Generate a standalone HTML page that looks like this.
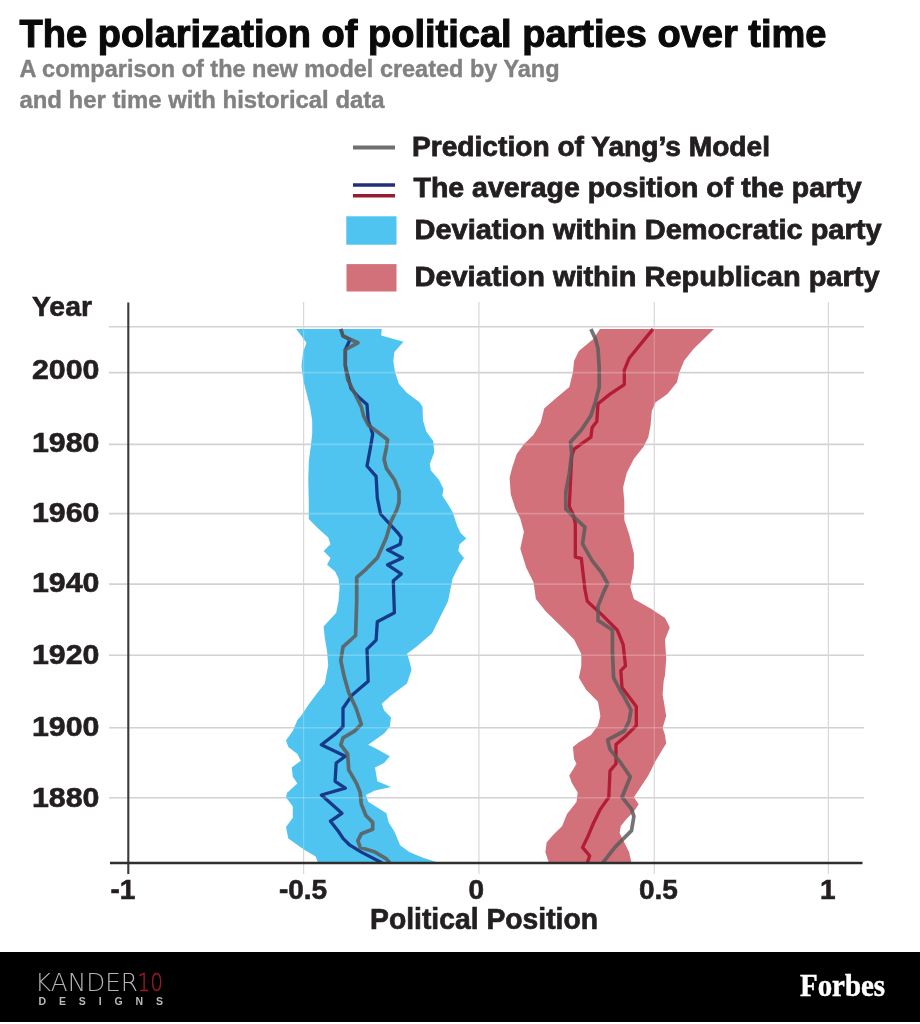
<!DOCTYPE html>
<html><head><meta charset="utf-8"><title>The polarization of political parties over time</title>
<style>html,body{margin:0;padding:0;background:#fff;}body{width:920px;height:1024px;overflow:hidden;}svg{display:block;filter:blur(0.35px);}</style>
</head><body>
<svg width="920" height="1024" viewBox="0 0 920 1024">
<rect width="920" height="1024" fill="#fff"/>
<line x1="109" y1="326.7" x2="864" y2="326.7" stroke="#d2d2d2" stroke-width="1.6"/><line x1="109" y1="372.6" x2="864" y2="372.6" stroke="#d2d2d2" stroke-width="1.6"/><line x1="109" y1="444.4" x2="864" y2="444.4" stroke="#d2d2d2" stroke-width="1.6"/><line x1="109" y1="513.6" x2="864" y2="513.6" stroke="#d2d2d2" stroke-width="1.6"/><line x1="109" y1="584.1" x2="864" y2="584.1" stroke="#d2d2d2" stroke-width="1.6"/><line x1="109" y1="655.2" x2="864" y2="655.2" stroke="#d2d2d2" stroke-width="1.6"/><line x1="109" y1="727.8" x2="864" y2="727.8" stroke="#d2d2d2" stroke-width="1.6"/><line x1="109" y1="797.8" x2="864" y2="797.8" stroke="#d2d2d2" stroke-width="1.6"/><line x1="303.6" y1="302" x2="303.6" y2="874" stroke="#d8d8d8" stroke-width="1.2"/><line x1="478.9" y1="302" x2="478.9" y2="874" stroke="#d8d8d8" stroke-width="1.2"/><line x1="654.3" y1="302" x2="654.3" y2="874" stroke="#d8d8d8" stroke-width="1.2"/><line x1="828.4" y1="302" x2="828.4" y2="874" stroke="#d8d8d8" stroke-width="1.2"/>

<polygon points="296.2,329.1 306.5,342.8 303.1,352.0 301.5,365.7 303.1,379.3 306.5,393.0 310.0,406.7 312.2,420.4 312.2,434.1 310.6,447.8 308.8,461.5 308.3,479.8 308.8,502.6 308.8,519.1 317.9,528.3 328.2,537.4 330.5,544.2 323.6,551.1 330.5,557.9 327.1,564.8 335.1,571.6 338.5,578.5 339.6,587.6 338.5,601.3 336.2,612.7 323.6,626.4 324.8,637.8 327.1,651.5 328.2,665.2 324.8,683.5 318.0,692.0 309.0,704.0 301.0,716.0 297.4,720.0 292.8,731.1 286.0,740.2 288.3,747.1 297.4,753.9 300.8,760.8 291.7,767.6 292.8,776.7 297.4,783.6 287.1,792.7 286.0,797.3 292.8,806.4 292.8,817.8 286.0,827.0 288.3,838.4 304.2,849.8 315.7,856.6 317.9,862.8 438.9,862.8 422.9,857.8 409.2,852.1 400.1,845.2 394.4,831.5 388.7,822.4 386.4,813.3 368.2,801.8 365.9,795.0 375.0,790.4 391.0,787.0 377.3,781.3 375.0,767.6 384.1,763.0 389.8,756.2 377.3,749.3 368.2,744.8 384.1,733.4 389.8,726.5 391.0,717.4 384.1,710.5 381.8,703.7 391.0,695.5 407.0,683.5 411.5,669.8 409.2,660.6 407.0,653.8 416.1,647.0 432.1,633.3 438.9,619.6 448.0,601.3 452.6,578.5 459.5,564.8 464.0,557.9 458.3,551.1 459.5,544.2 466.3,538.5 460.6,533.0 457.2,526.0 452.6,512.0 446.9,502.6 442.3,495.8 443.5,488.9 438.9,479.8 430.9,470.6 429.8,463.8 434.3,452.4 433.2,441.0 426.4,431.8 423.0,420.4 422.5,406.7 419.5,402.2 407.0,393.0 399.0,383.9 395.1,372.5 393.3,361.1 394.4,352.0 403.5,341.7 381.2,335.5 381.8,329.1" fill="#50c4f0"/>
<polygon points="600.0,329.1 593.3,339.1 578.9,351.1 574.1,360.7 572.9,372.6 569.3,387.0 555.0,398.9 544.2,408.5 540.7,422.8 533.5,434.8 523.9,444.3 516.7,453.9 512.0,468.3 509.6,477.8 510.8,494.6 515.5,508.9 520.3,518.5 523.9,532.0 520.3,548.7 526.3,567.8 533.5,582.2 535.9,598.9 545.4,610.9 562.2,627.6 574.1,639.6 581.3,653.9 581.3,665.9 578.9,677.8 586.1,689.8 598.0,701.7 600.4,716.1 598.0,725.4 590.9,735.0 578.9,742.2 572.9,747.0 574.1,758.9 576.5,763.7 569.3,775.6 571.7,782.8 577.7,792.4 576.5,802.0 567.0,813.9 562.2,825.9 552.6,835.4 546.6,842.6 545.4,852.2 549.0,862.9 631.5,862.9 629.1,852.2 624.3,842.6 619.6,833.0 620.8,825.9 626.7,818.7 633.9,811.5 638.7,804.3 633.9,797.2 638.7,790.0 648.3,775.6 655.4,761.3 662.6,749.3 666.2,743.4 665.0,735.0 662.6,727.8 666.2,715.9 662.6,694.3 663.8,680.0 665.0,675.4 666.2,658.7 665.0,639.6 669.8,627.6 665.0,618.0 650.6,608.5 633.9,598.9 630.3,587.0 633.9,567.8 633.9,553.5 629.1,534.3 624.3,520.0 624.3,501.7 623.1,487.4 626.7,473.0 633.9,458.7 643.5,446.7 648.3,437.2 650.6,425.2 651.8,410.9 655.4,402.5 667.4,394.1 677.0,382.2 679.3,372.6 684.1,360.7 693.7,348.7 714.0,329.1" fill="#d3717a"/>
<g fill="none" stroke-linejoin="round" stroke-linecap="butt">
<polyline points="340.8,329.1 343.0,336.0 350.0,339.5 345.3,349.7 345.3,365.7 347.6,374.8 351.0,388.5 359.0,397.6 367.0,404.5 368.2,420.4 372.7,434.1 370.4,447.8 367.0,466.0 376.1,476.4 377.3,498.0 380.5,514.0 397.8,532.8 401.2,537.4 400.1,544.2 387.6,549.9 402.4,557.9 387.6,564.8 401.2,573.9 393.3,580.8 394.4,612.7 377.3,621.8 376.1,640.1 367.0,649.2 368.2,681.2 352.2,694.9 343.0,708.3 343.0,726.5 336.2,733.4 321.4,744.8 345.3,756.2 336.2,763.0 335.1,781.3 345.3,788.2 321.4,795.0 341.9,813.3 330.5,821.2 338.5,831.5 343.0,838.4 349.9,845.2 361.3,852.1 381.8,862.8" stroke="#183888" stroke-width="3.3"/>
<polyline points="653.0,329.1 644.7,339.1 629.1,358.3 624.3,370.2 624.3,384.6 610.0,394.1 598.0,403.7 596.8,421.6 592.1,427.6 590.9,437.2 574.1,449.1 571.7,456.3 569.3,506.5 572.9,513.7 575.3,523.3 575.3,557.1 581.3,558.3 584.9,589.3 587.3,601.3 602.8,615.6 617.2,630.0 623.1,644.3 625.5,665.9 620.8,670.6 622.0,687.4 636.3,706.5 636.3,725.6 626.7,735.2 616.0,744.6 616.0,763.7 610.0,770.9 608.8,797.2 600.4,809.1 593.3,823.5 587.3,837.8 582.5,847.4 589.7,855.8 587.3,862.9" stroke="#b21c35" stroke-width="3.3"/>
<polyline points="340.8,329.1 343.0,336.0 357.9,342.8 345.3,349.7 345.3,365.7 347.6,379.3 354.5,393.0 361.3,406.7 363.6,415.9 368.2,425.0 377.3,431.8 387.6,439.8 386.4,447.8 384.1,459.2 386.4,468.4 394.4,479.8 399.0,491.2 399.0,502.6 396.7,510.0 391.0,521.4 386.4,537.4 377.3,557.9 365.9,569.3 356.7,577.3 356.7,601.3 355.6,635.5 343.0,646.9 340.8,660.6 344.2,676.6 348.7,692.6 356.0,708.0 361.3,724.2 354.5,731.1 343.0,737.9 340.8,744.8 347.6,753.9 348.7,769.9 356.7,783.6 360.2,792.7 361.3,804.1 365.9,815.5 372.7,822.4 372.7,829.2 361.3,833.8 357.9,840.6 360.2,847.5 375.0,852.1 386.4,858.9 389.8,862.8" stroke="#5a5c5a" stroke-opacity="0.85" stroke-width="3.7"/>
<polyline points="590.9,329.1 595.6,339.1 598.0,348.7 599.2,367.8 599.2,387.0 595.6,401.3 590.9,415.6 581.3,430.0 570.5,442.0 571.7,453.9 569.3,473.0 565.8,492.2 565.8,508.9 572.9,516.1 584.9,527.2 582.5,543.9 592.1,560.7 601.6,572.6 607.6,583.4 602.8,594.1 598.0,606.1 598.0,620.4 612.4,630.0 612.4,651.5 613.6,677.8 620.0,690.0 624.3,697.0 631.0,710.0 629.1,720.9 624.3,731.0 607.6,739.8 610.0,749.3 619.6,761.3 630.3,776.8 622.0,797.2 631.5,809.1 633.9,816.3 631.5,830.6 614.8,847.4 602.8,862.9" stroke="#5a5c5a" stroke-opacity="0.85" stroke-width="3.7"/>
</g>
<clipPath id="fc"><polygon points="296.2,329.1 306.5,342.8 303.1,352.0 301.5,365.7 303.1,379.3 306.5,393.0 310.0,406.7 312.2,420.4 312.2,434.1 310.6,447.8 308.8,461.5 308.3,479.8 308.8,502.6 308.8,519.1 317.9,528.3 328.2,537.4 330.5,544.2 323.6,551.1 330.5,557.9 327.1,564.8 335.1,571.6 338.5,578.5 339.6,587.6 338.5,601.3 336.2,612.7 323.6,626.4 324.8,637.8 327.1,651.5 328.2,665.2 324.8,683.5 318.0,692.0 309.0,704.0 301.0,716.0 297.4,720.0 292.8,731.1 286.0,740.2 288.3,747.1 297.4,753.9 300.8,760.8 291.7,767.6 292.8,776.7 297.4,783.6 287.1,792.7 286.0,797.3 292.8,806.4 292.8,817.8 286.0,827.0 288.3,838.4 304.2,849.8 315.7,856.6 317.9,862.8 438.9,862.8 422.9,857.8 409.2,852.1 400.1,845.2 394.4,831.5 388.7,822.4 386.4,813.3 368.2,801.8 365.9,795.0 375.0,790.4 391.0,787.0 377.3,781.3 375.0,767.6 384.1,763.0 389.8,756.2 377.3,749.3 368.2,744.8 384.1,733.4 389.8,726.5 391.0,717.4 384.1,710.5 381.8,703.7 391.0,695.5 407.0,683.5 411.5,669.8 409.2,660.6 407.0,653.8 416.1,647.0 432.1,633.3 438.9,619.6 448.0,601.3 452.6,578.5 459.5,564.8 464.0,557.9 458.3,551.1 459.5,544.2 466.3,538.5 460.6,533.0 457.2,526.0 452.6,512.0 446.9,502.6 442.3,495.8 443.5,488.9 438.9,479.8 430.9,470.6 429.8,463.8 434.3,452.4 433.2,441.0 426.4,431.8 423.0,420.4 422.5,406.7 419.5,402.2 407.0,393.0 399.0,383.9 395.1,372.5 393.3,361.1 394.4,352.0 403.5,341.7 381.2,335.5 381.8,329.1"/><polygon points="600.0,329.1 593.3,339.1 578.9,351.1 574.1,360.7 572.9,372.6 569.3,387.0 555.0,398.9 544.2,408.5 540.7,422.8 533.5,434.8 523.9,444.3 516.7,453.9 512.0,468.3 509.6,477.8 510.8,494.6 515.5,508.9 520.3,518.5 523.9,532.0 520.3,548.7 526.3,567.8 533.5,582.2 535.9,598.9 545.4,610.9 562.2,627.6 574.1,639.6 581.3,653.9 581.3,665.9 578.9,677.8 586.1,689.8 598.0,701.7 600.4,716.1 598.0,725.4 590.9,735.0 578.9,742.2 572.9,747.0 574.1,758.9 576.5,763.7 569.3,775.6 571.7,782.8 577.7,792.4 576.5,802.0 567.0,813.9 562.2,825.9 552.6,835.4 546.6,842.6 545.4,852.2 549.0,862.9 631.5,862.9 629.1,852.2 624.3,842.6 619.6,833.0 620.8,825.9 626.7,818.7 633.9,811.5 638.7,804.3 633.9,797.2 638.7,790.0 648.3,775.6 655.4,761.3 662.6,749.3 666.2,743.4 665.0,735.0 662.6,727.8 666.2,715.9 662.6,694.3 663.8,680.0 665.0,675.4 666.2,658.7 665.0,639.6 669.8,627.6 665.0,618.0 650.6,608.5 633.9,598.9 630.3,587.0 633.9,567.8 633.9,553.5 629.1,534.3 624.3,520.0 624.3,501.7 623.1,487.4 626.7,473.0 633.9,458.7 643.5,446.7 648.3,437.2 650.6,425.2 651.8,410.9 655.4,402.5 667.4,394.1 677.0,382.2 679.3,372.6 684.1,360.7 693.7,348.7 714.0,329.1"/></clipPath>
<g clip-path="url(#fc)" stroke="#fff" stroke-opacity="0.22"><line x1="110" y1="326.7" x2="864" y2="326.7" stroke-width="1.6"/><line x1="110" y1="372.6" x2="864" y2="372.6" stroke-width="1.6"/><line x1="110" y1="444.4" x2="864" y2="444.4" stroke-width="1.6"/><line x1="110" y1="513.6" x2="864" y2="513.6" stroke-width="1.6"/><line x1="110" y1="584.1" x2="864" y2="584.1" stroke-width="1.6"/><line x1="110" y1="655.2" x2="864" y2="655.2" stroke-width="1.6"/><line x1="110" y1="727.8" x2="864" y2="727.8" stroke-width="1.6"/><line x1="110" y1="797.8" x2="864" y2="797.8" stroke-width="1.6"/><line x1="303.6" y1="302" x2="303.6" y2="874" stroke-width="1.2"/><line x1="478.9" y1="302" x2="478.9" y2="874" stroke-width="1.2"/><line x1="654.3" y1="302" x2="654.3" y2="874" stroke-width="1.2"/><line x1="828.4" y1="302" x2="828.4" y2="874" stroke-width="1.2"/></g>
<line x1="128.3" y1="302.5" x2="128.3" y2="874" stroke="#3a3a3a" stroke-width="2.1"/>
<line x1="110" y1="863" x2="862.5" y2="863" stroke="#2e2e2e" stroke-width="2.4"/>


<line x1="353" y1="147.4" x2="395" y2="147.4" stroke="#6e6f6e" stroke-width="4"/>
<line x1="353" y1="185" x2="395" y2="185" stroke="#22307a" stroke-width="3.6"/>
<line x1="353" y1="195.7" x2="395" y2="195.7" stroke="#941d30" stroke-width="3.6"/>
<rect x="346.3" y="216.3" width="50.2" height="28.4" fill="#50c4f0"/>
<rect x="346.5" y="264.1" width="50" height="27.4" fill="#d3717a"/>

<g font-family="Liberation Sans, Arial, sans-serif" font-weight="bold"><text x="19.5" y="46.75" font-size="39" fill="#0a0a0a" textLength="807" lengthAdjust="spacingAndGlyphs"  stroke="#0a0a0a" stroke-width="1.1">The polarization of political parties over time</text><text x="19.5" y="77.4" font-size="23.5" fill="#818181" textLength="540" lengthAdjust="spacingAndGlyphs"  stroke="#818181" stroke-width="0.4">A comparison of the new model created by Yang</text><text x="19.5" y="107.8" font-size="23.5" fill="#818181" textLength="365" lengthAdjust="spacingAndGlyphs"  stroke="#818181" stroke-width="0.4">and her time with historical data</text><text x="412" y="156.1" font-size="27.5" fill="#231f20" textLength="358" lengthAdjust="spacingAndGlyphs"  stroke="#231f20" stroke-width="0.8">Prediction of Yang’s Model</text><text x="413.5" y="196.5" font-size="27.5" fill="#231f20" textLength="448" lengthAdjust="spacingAndGlyphs"  stroke="#231f20" stroke-width="0.8">The average position of the party</text><text x="414.5" y="238.8" font-size="27.5" fill="#231f20" textLength="467" lengthAdjust="spacingAndGlyphs"  stroke="#231f20" stroke-width="0.8">Deviation within Democratic party</text><text x="414.5" y="285.6" font-size="27.5" fill="#231f20" textLength="465" lengthAdjust="spacingAndGlyphs"  stroke="#231f20" stroke-width="0.8">Deviation within Republican party</text><text x="32" y="315.9" font-size="28" fill="#231f20" textLength="60" lengthAdjust="spacingAndGlyphs"  stroke="#231f20" stroke-width="0.6">Year</text><text x="32" y="379.1" font-size="28" fill="#231f20" textLength="67.5" lengthAdjust="spacingAndGlyphs"  stroke="#231f20" stroke-width="0.6">2000</text><text x="32" y="452" font-size="28" fill="#231f20" textLength="67.5" lengthAdjust="spacingAndGlyphs"  stroke="#231f20" stroke-width="0.6">1980</text><text x="32" y="521.5" font-size="28" fill="#231f20" textLength="67.5" lengthAdjust="spacingAndGlyphs"  stroke="#231f20" stroke-width="0.6">1960</text><text x="32" y="592" font-size="28" fill="#231f20" textLength="67.5" lengthAdjust="spacingAndGlyphs"  stroke="#231f20" stroke-width="0.6">1940</text><text x="32" y="664.3" font-size="28" fill="#231f20" textLength="67.5" lengthAdjust="spacingAndGlyphs"  stroke="#231f20" stroke-width="0.6">1920</text><text x="32" y="736.3" font-size="28" fill="#231f20" textLength="67.5" lengthAdjust="spacingAndGlyphs"  stroke="#231f20" stroke-width="0.6">1900</text><text x="32" y="807" font-size="28" fill="#231f20" textLength="67.5" lengthAdjust="spacingAndGlyphs"  stroke="#231f20" stroke-width="0.6">1880</text><text x="123" y="899" font-size="28" fill="#231f20" text-anchor="middle"  stroke="#231f20" stroke-width="0.6">-1</text><text x="303" y="899" font-size="28" fill="#231f20" text-anchor="middle"  stroke="#231f20" stroke-width="0.6">-0.5</text><text x="476.4" y="899" font-size="28" fill="#231f20" text-anchor="middle"  stroke="#231f20" stroke-width="0.6">0</text><text x="658.4" y="899" font-size="28" fill="#231f20" text-anchor="middle"  stroke="#231f20" stroke-width="0.6">0.5</text><text x="827.8" y="899" font-size="28" fill="#231f20" text-anchor="middle"  stroke="#231f20" stroke-width="0.6">1</text><text x="370" y="928.6" font-size="29.5" fill="#231f20" textLength="228" lengthAdjust="spacingAndGlyphs"  stroke="#231f20" stroke-width="0.7">Political Position</text></g>

<rect x="0" y="952" width="920" height="70" fill="#000"/>
<text x="35" y="991" font-family="DejaVu Sans, sans-serif" font-weight="200" font-size="25" fill="#b4b4b4" textLength="103" lengthAdjust="spacingAndGlyphs">KANDER</text>
<text x="137.5" y="991" font-family="DejaVu Sans, sans-serif" font-weight="200" font-size="25" fill="#9a1c2e" stroke="#9a1c2e" stroke-width="0.45" textLength="25.5" lengthAdjust="spacingAndGlyphs">10</text>
<text x="38.5" y="1004.5" font-family="Liberation Sans, Arial, sans-serif" font-weight="bold" font-size="10.5" fill="#b9b9b9" textLength="124.5" lengthAdjust="spacing">DESIGNS</text>
<text x="800" y="996" font-family="Liberation Serif, Times New Roman, serif" font-weight="bold" font-size="32" fill="#fff" stroke="#fff" stroke-width="0.5" textLength="85" lengthAdjust="spacingAndGlyphs">Forbes</text>

</svg>
</body></html>
